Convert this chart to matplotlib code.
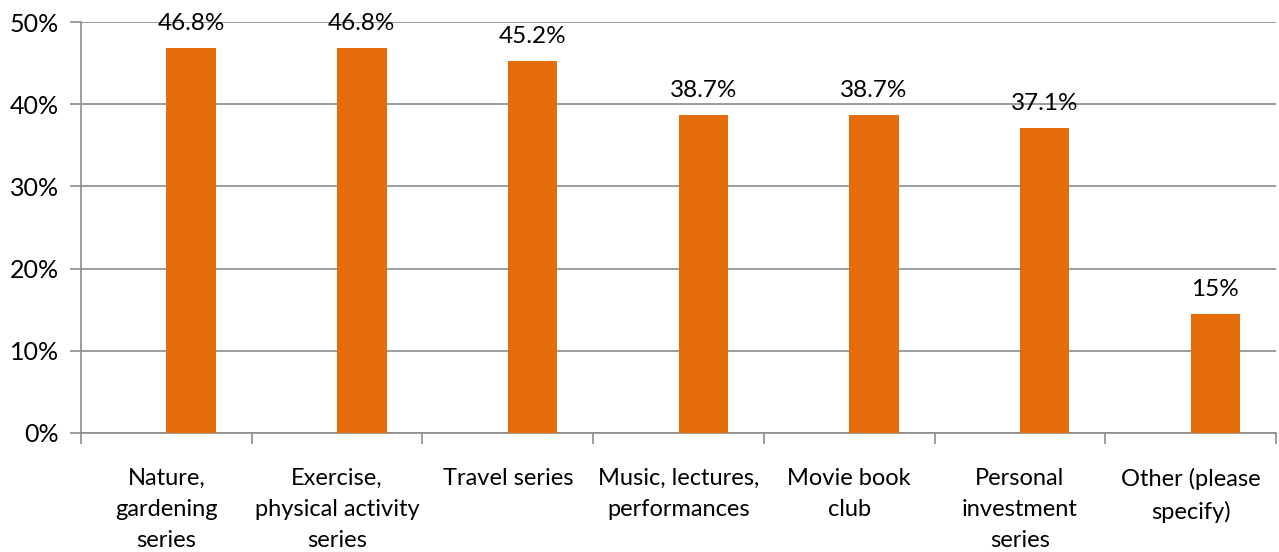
import matplotlib
matplotlib.use("Agg")
import matplotlib.pyplot as plt
import numpy as np

categories = ["Nature,\ngardening\nseries", "Exercise,\nphysical activity\nseries",
              "Travel series", "Music, lectures,\nperformances", "Movie book\nclub",
              "Personal\ninvestment\nseries", "Other (please\nspecify)"]
values = [46.8, 46.8, 45.2, 38.7, 38.7, 37.1, 14.5]
value_labels = ["46.8%", "46.8%", "45.2%", "38.7%", "38.7%", "37.1%", "15%"]
yticks = [0, 10, 20, 30, 40, 50]
ytick_labels = ["0%", "10%", "20%", "30%", "40%", "50%"]

plt.rcParams['font.family'] = ['Lato', 'DejaVu Sans']
fig = plt.figure(figsize=(12.79, 5.52), dpi=100)
ax = fig.add_axes([81/1279, 1-433/552, (1276-81)/1279, (433-22)/552])

x = np.arange(len(categories))
bw = 0.29
ax.bar(x, values, width=bw, align="edge", color="#E46C0A", zorder=3)
for xi, v, lab in zip(x, values, value_labels):
    ax.text(xi + bw / 2, v + 1.7, lab, ha="center", va="bottom", fontsize=17.5, color="black")

ax.set_xlim(-0.5, len(categories) - 0.5)
ax.set_ylim(0, 50)
ax.set_yticks(yticks)
ax.set_yticklabels(ytick_labels, fontsize=18)
ax.yaxis.grid(True, color="#8c8c8c", linewidth=1.2, zorder=0)
ax.set_xticks(x)
ax.set_xticklabels(categories, fontsize=17, linespacing=1.6)
ax.tick_params(axis="x", length=0, pad=25)
ax.set_xticks(np.arange(-0.5, len(categories)), minor=True)
ax.tick_params(axis="x", which="minor", length=8, color="#8c8c8c", width=1.2)
ax.tick_params(axis="y", length=8, color="#8c8c8c", width=1.2, pad=8)
for s in ["top", "right"]:
    ax.spines[s].set_visible(False)
for s in ["left", "bottom"]:
    ax.spines[s].set_color("#8c8c8c")
    ax.spines[s].set_linewidth(1.2)

fig.savefig("out.png", dpi=100)
